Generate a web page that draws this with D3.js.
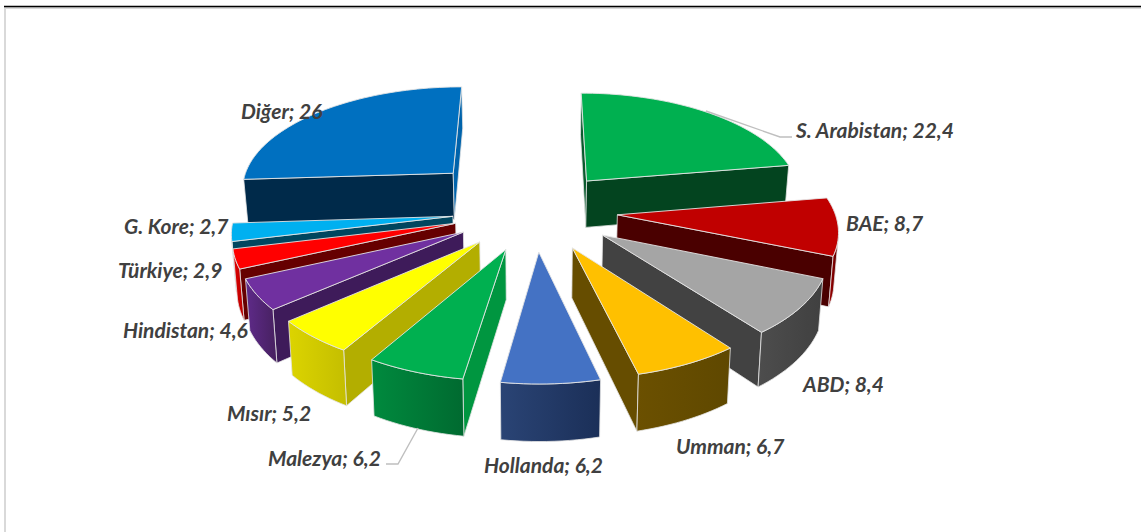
<!DOCTYPE html>
<html>
<head>
<meta charset="utf-8">
<script src="https://cdn.jsdelivr.net/npm/d3@7"></script>
<style>
  html, body { margin: 0; padding: 0; background: #fff; overflow: hidden; }
  .label { font-family: Lato, "Open Sans", sans-serif; font-weight: 700; font-style: italic; font-size: 21px; fill: #404040; }
</style>
</head>
<body>
<div id="container"></div>
<script>
(function(){

  // data, clockwise from the top
  var countries = ["S. Arabistan","BAE","ABD","Umman","Hollanda","Malezya","Mısır","Hindistan","Türkiye","G. Kore","Diğer"]
  var shares = [22.4,8.7,8.4,6.7,6.2,6.2,5.2,4.6,2.9,2.7,26]

  // colours per slice
  var topColors = ["#00B050","#C00000","#A5A5A5","#FFC000","#4472C4","#00B050","#FFFF00","#7030A0","#FF0000","#00B0F0","#0070C0"]
  var startFace = ["#0a5a2e","#4a0000","#424242","#664d00","#1f3560","#009640","#b3ae00","#3e1b5a","#660000","#00465f","#002a4a"]
  var endFace = ["#03441f","#4a0000","#424242","#664d00","#1f3560","#009640","#b3ae00","#3e1b5a","#660000","#00465f","#0063ab"]
  var wallLeft = ["#03441f","#a00000","#4d4d4d","#6b5000","#2a4475","#008a3e","#dcd400","#5f2b8a","#e60000","#0090c4","#002a4a"]
  var wallRight = ["#03441f","#5a0000","#404040","#5f4800","#1b2f58","#006a30","#c4be00","#46205f","#b00000","#007aa8","#002a4a"]

  // how far each slice is pulled out of the pie
  var explode = [0.38,0.38,0.38,0.38,0.38,0.38,0.38,0.38,0.38,0.38,0.54]

  // label anchors (left x, baseline y)
  var labelX = [796,846,803,676,484,268,227,123,118,124,241]
  var labelY = [138,231,392,454,473,466,421,338,278,234,119]

  var width = 1141, height = 532

  // perspective view of the pie
  var cx = 535, cy = 210.4, scaleX = 217, scaleY = 105, persp = 0.12, depth = 48

  var svg = d3.select("#container")
    .append("svg")
      .attr("width", width)
      .attr("height", height)
      .style("display", "block")

  var defs = svg.append("defs")

  // frame of the chart and the line of the cut off title above it
  svg.append("rect").attr("x", 5).attr("y", 8).attr("width", width).attr("height", height)
    .attr("fill", "#fff").attr("stroke", "#d9d9d9").attr("stroke-width", 2)
  svg.append("line").attr("x1", 4).attr("x2", width).attr("y1", 6.5).attr("y2", 6.5)
    .attr("stroke", "#000").attr("stroke-width", 1.5)

  function project(x, y, h){
    var w = 1 + persp * y
    return [cx + scaleX * x / w * (1 - 0.015 * h), cy - scaleY * y / w + depth * h / w]
  }

  var pie = d3.pie().sort(null).startAngle(0).endAngle(2 * Math.PI)
  var line = d3.line()
  var closed = function(pts){ return line(pts) + "Z" }

  var slices = pie(shares).map(function(d, i){
    var mid = (d.startAngle + d.endAngle) / 2
    var ox = explode[i] * Math.sin(mid), oy = explode[i] * Math.cos(mid)
    var steps = Math.max(4, Math.ceil((d.endAngle - d.startAngle) / 0.03))
    var angles = d3.range(steps + 1).map(function(k){
      return d.startAngle + (d.endAngle - d.startAngle) * k / steps
    })
    var at = function(h){
      return angles.map(function(a){ return project(ox + Math.sin(a), oy + Math.cos(a), h) })
    }
    return { i: i, mid: mid, apexTop: project(ox, oy, 0), apexBot: project(ox, oy, 1), top: at(0), bot: at(1) }
  })

  // back slices first, the ones closest to the viewer last
  slices.sort(function(a, b){ return a.apexTop[1] - b.apexTop[1] })

  var edge = "#e4e4e4"

  var groups = svg.append("g").selectAll("g")
    .data(slices)
    .enter().append("g")

  groups.each(function(s){
    var g = d3.select(this)
    var n = s.top.length - 1

    // the two cut faces, only if they look at the viewer
    var faceStart = [s.apexTop, s.top[0], s.bot[0], s.apexBot]
    var faceEnd = [s.top[n], s.apexTop, s.apexBot, s.bot[n]]
    if (d3.polygonArea(faceStart) > 0) {
      g.append("path").attr("d", closed(faceStart))
        .attr("fill", startFace[s.i]).attr("stroke", edge).attr("stroke-width", 0.8)
    }
    if (d3.polygonArea(faceEnd) > 0) {
      g.append("path").attr("d", closed(faceEnd))
        .attr("fill", endFace[s.i]).attr("stroke", edge).attr("stroke-width", 0.8)
    }

    // outer wall, only the part that looks at the viewer, shaded from left to right
    var visible = d3.range(n).filter(function(k){
      return d3.polygonArea([s.top[k], s.top[k+1], s.bot[k+1], s.bot[k]]) > 0
    })
    if (visible.length) {
      var a = visible[0], b = visible[visible.length - 1] + 1
      var outline = s.top.slice(a, b + 1).concat(s.bot.slice(a, b + 1).reverse())
      var xr = d3.extent(outline, function(p){ return p[0] })
      var grad = defs.append("linearGradient")
        .attr("id", "wall" + s.i)
        .attr("gradientUnits", "userSpaceOnUse")
        .attr("x1", xr[0]).attr("x2", xr[1]).attr("y1", 0).attr("y2", 0)
      grad.append("stop").attr("offset", 0).attr("stop-color", wallLeft[s.i])
      grad.append("stop").attr("offset", 1).attr("stop-color", wallRight[s.i])
      g.append("path").attr("d", closed(outline))
        .attr("fill", "url(#wall" + s.i + ")").attr("stroke", edge).attr("stroke-width", 0.8)
    }

    // top of the slice
    g.append("path").attr("d", closed([s.apexTop].concat(s.top)))
      .attr("fill", topColors[s.i]).attr("stroke", edge).attr("stroke-width", 0.9)
  })

  // leader lines
  var leaders = [[[706,111],[780,137],[792,137]], [[418,428],[398,464],[386,464]]]
  svg.selectAll(".leader")
    .data(leaders)
    .enter().append("path")
      .attr("class", "leader")
      .attr("d", line)
      .attr("fill", "none")
      .attr("stroke", "#bfbfbf")
      .attr("stroke-width", 1.4)

  svg.selectAll(".label")
    .data(countries)
    .enter().append("text")
      .attr("class", "label")
      .attr("x", function(d, i){ return labelX[i] })
      .attr("y", function(d, i){ return labelY[i] })
      .text(function(d, i){ return d + "; " + String(shares[i]).replace(".", ",") })

})()
</script>
</body>
</html>
